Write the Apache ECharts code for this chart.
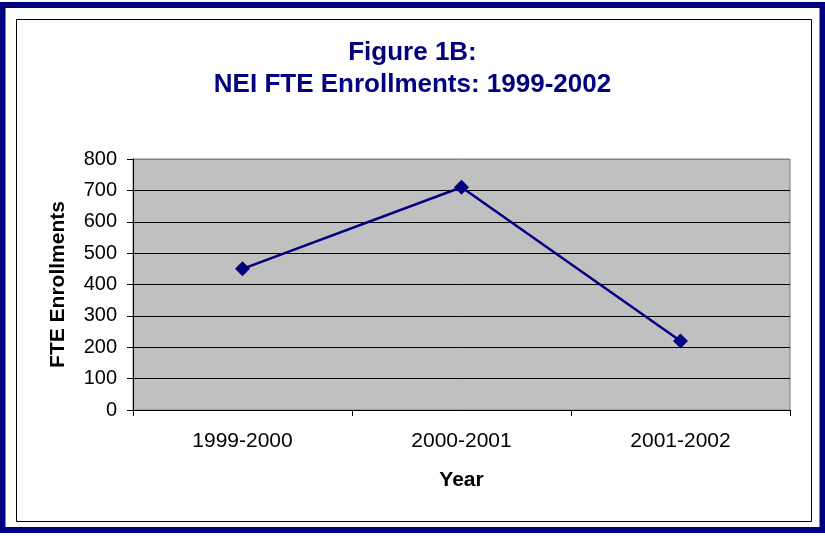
<!DOCTYPE html>
<html>
<head>
<meta charset="utf-8">
<script src="https://cdn.jsdelivr.net/npm/echarts@6/dist/echarts.min.js"></script>
<style>
  html, body { margin: 0; padding: 0; background: #fff; }
  #chart { width: 825px; height: 536px; }
</style>
</head>
<body>
<div id="chart"></div>
<script>
// data
const years = ['1999-2000', '2000-2001', '2001-2002']
const enrollments = [450, 710, 220]
const yTicks = [0, 100, 200, 300, 400, 500, 600, 700, 800]

const navy = '#000080'
const chart = echarts.init(document.getElementById('chart'))

// gridlines black, top one grey like the plot frame
const gridColors = yTicks.map((v, i) => (i === yTicks.length - 1 ? '#808080' : '#000'))

const option = {
  animation: false,
  backgroundColor: '#fff',
  textStyle: { fontFamily: 'Liberation Sans, Arial, sans-serif' },
  graphic: [
    {
      type: 'rect',
      shape: { x: 2.5, y: 5, width: 820, height: 525 },
      style: { fill: 'none', stroke: navy, lineWidth: 6 }
    },
    {
      type: 'rect',
      shape: { x: 16.5, y: 19.5, width: 795, height: 502 },
      style: { fill: 'none', stroke: '#000', lineWidth: 1 }
    }
  ],
  title: {
    text: 'Figure 1B:\nNEI FTE Enrollments: 1999-2002',
    left: 'center',
    top: 32,
    textStyle: {
      color: navy,
      fontSize: 26,
      fontWeight: 'bold',
      lineHeight: 32,
      fontFamily: 'Liberation Sans, Arial, sans-serif'
    }
  },
  grid: {
    left: 133,
    top: 159,
    right: 35,
    bottom: 126,
    show: true,
    backgroundColor: '#C0C0C0',
    borderColor: '#808080',
    borderWidth: 1
  },
  xAxis: {
    type: 'category',
    data: years,
    boundaryGap: true,
    name: 'Year',
    nameLocation: 'middle',
    nameGap: 60,
    nameTextStyle: { fontSize: 21, fontWeight: 'bold', color: '#000' },
    axisLine: { lineStyle: { color: '#000', width: 1 } },
    axisTick: { show: true, length: 6, lineStyle: { color: '#000' } },
    axisLabel: { fontSize: 21, color: '#000', margin: 21 },
    splitLine: { show: false }
  },
  yAxis: {
    type: 'value',
    min: 0,
    max: 800,
    interval: 100,
    name: 'FTE Enrollments',
    nameLocation: 'middle',
    nameRotate: 90,
    nameGap: 64,
    nameTextStyle: { fontSize: 21, fontWeight: 'bold', color: '#000' },
    axisLine: { show: true, lineStyle: { color: '#000', width: 1 } },
    axisTick: { show: true, length: 6, lineStyle: { color: '#000' } },
    axisLabel: { fontSize: 20, color: '#000', margin: 16 },
    splitLine: { show: true, lineStyle: { color: gridColors, width: 1 } }
  },
  series: [
    {
      type: 'line',
      data: enrollments,
      symbol: 'diamond',
      symbolSize: 15,
      lineStyle: { color: navy, width: 2.5 },
      itemStyle: { color: navy },
      z: 5
    }
  ]
}

chart.setOption(option)
window.addEventListener('resize', () => {
  chart.resize()
})
</script>
</body>
</html>
